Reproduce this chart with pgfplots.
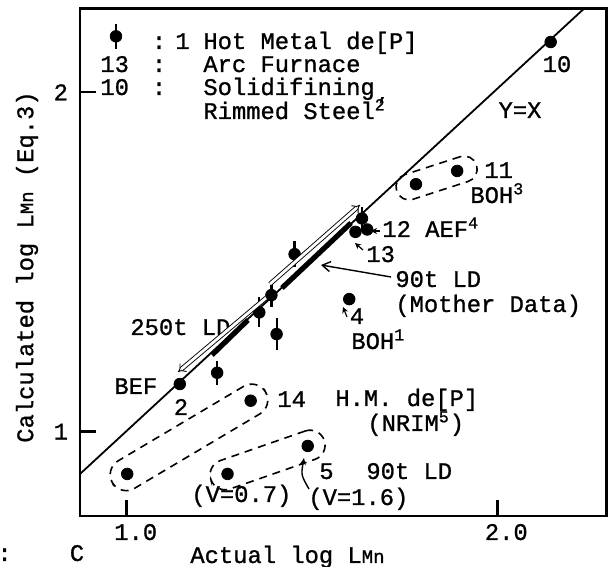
\documentclass[border=0pt]{standalone}
\usepackage{fontspec}
\setmainfont{Liberation Mono}[FakeBold=1]
\usepackage{pgfplots}
\pgfplotsset{compat=1.18}
\usetikzlibrary{calc,arrows.meta}
\newcommand\fs{\fontsize{11.9bp}{13bp}\selectfont}
\newcommand\sub[1]{{\fontsize{9.5bp}{9.5bp}\selectfont #1}}

\begin{document}
\begin{tikzpicture}[font=\fs]
\begin{axis}[
  scale only axis, width=263.35bp, height=253.85bp,
  xmin=0.8740, xmax=2.2952, ymin=0.7516, ymax=2.2475,
  xtick={1,2}, xticklabels={1.0,2.0},
  ytick={1,2}, yticklabels={1,2},
  tick pos=left, tick align=inside, major tick length=8bp,
  axis line style={line width=1.3bp},
  tick style={line width=1.2bp, black},
  xticklabel style={xshift=4.5bp, yshift=-0.5bp},
  yticklabel style={xshift=-2.5bp},
  /pgf/number format/assume math mode=true,
  ticklabel style={font=\fs},
  clip=false,
]
% Y = X
\addplot[black, line width=0.9bp] coordinates {(0.8740,0.8754) (2.2350,2.2475)};

% plain points
\addplot[only marks, mark=*, mark size=2.9bp, black] table {
x y
2.1440 2.1481
1.7805 1.7292
1.8917 1.7683
1.6489 1.5958
1.6173 1.5888
1.6005 1.3906
1.1433 1.1404
1.3345 1.0913
1.0014 0.8755
1.2721 0.8755
1.4885 0.9579
};

% hot metal de[P] (with bars), first row is the key symbol
\addplot[only marks, mark=*, mark size=2.9bp, black,
  error bars/.cd, y dir=both, y explicit, error mark=none,
  error bar style={line width=1.1bp}] table[y error=e] {
x y e
0.9711 2.1649 0.037
1.6349 1.6282 0.035
1.4530 1.5231 0.038
1.3905 1.4024 0.035
1.3578 1.3515 0.044
1.4045 1.2876 0.047
1.2441 1.1737 0.035
};
\end{axis}

% annotations, in pixel units of the reference (origin top left)
\begin{scope}[shift={($(current axis.north west)+(-40bp,4.15bp)$)}, x=0.5bp, y=-0.5bp,
  every node/.style={inner sep=0, anchor=base west}]
  % key
  \node at (151.5,49) {:};
  \node at (175,49) {1};
  \node at (203,49) {Hot Metal de[P]};
  \node at (100,72) {13};
  \node at (151.5,72) {:};
  \node at (203,72) {Arc Furnace};
  \node at (100,95) {10};
  \node at (151.5,95) {:};
  \node at (203,95) {Solidifining};
  \node at (377,100) {\sub{,}};
  \node at (203,119) {Rimmed Steel\textsuperscript{2}};

  \node[anchor=base] at (557,72) {10};
  \node[anchor=base] at (520,118) {Y=X};
  \node at (484,178) {11};
  \node at (470,203) {BOH\textsuperscript{3}};
  \draw[line width=0.6bp, -{Stealth[length=3bp,width=3bp]}] (380,231) -- (371,231);
  \node at (382,237) {12 AEF\textsuperscript{4}};
  \draw[line width=0.6bp, -{Stealth[length=3bp,width=3bp]}] (363,250) -- (355,243);
  \node at (366,262) {13};
  \node at (395,287) {90t LD};
  \node at (395,312) {(Mother Data)};
  \draw[line width=0.7bp, -{Straight Barb[length=4bp,width=5bp]}] (391,277) -- (321,265);
  \draw[line width=0.6bp, -{Stealth[length=3bp,width=3bp]}] (347,317) -- (343,307);
  \node[anchor=base] at (357,324) {4};
  \node at (351,349) {BOH\textsuperscript{1}};
  \node at (130,335) {250t LD};
  \node at (114,394) {BEF};
  \node[anchor=base] at (181,415) {2};
  \node at (277,407) {14};
  \node at (335,406) {H.M. de[P]};
  \node at (367,431) {(NRIM\textsuperscript{5})};
  \node at (319,479) {5};
  \node at (366,479) {90t LD};
  \node at (191,502) {(V=0.7)};
  \node at (308,505) {(V=1.6)};
  \draw[line width=0.7bp, -{Stealth[length=3.5bp,width=3bp]}] (309,489) .. controls (301,475) .. (304,458);

  % LD ranges
  \draw[line width=0.45bp, double distance=1.4bp, -{Implies}] (270,284) -- (360,205);
  \draw[line width=2.6bp] (282,288) -- (351,223);
  \draw[line width=0.45bp, double distance=1.4bp, -{Implies}] (266,298) -- (178,372);
  \draw[line width=2.6bp] (248,320) -- (212,355);

  % dashed groups
  \begin{scope}[every node/.style={draw, dash pattern=on 4bp off 3bp, line width=0.8bp,
      inner sep=0, anchor=center}]
    \node[rounded corners=6.5bp, minimum width=42bp, minimum height=13bp, rotate=17.9] at (436.6,178) {};
    \node[rounded corners=8bp, minimum width=89bp, minimum height=16bp, rotate=30.7] at (189,437.4) {};
    \node[rounded corners=7.5bp, minimum width=60bp, minimum height=15bp, rotate=19.2] at (267.6,460) {};
  \end{scope}

  % axis titles
  \node[rotate=90, anchor=east] at (27,91) {Calculated log L\sub{Mn}  (Eq.3)};
  \node at (190,563) {Actual log L\sub{Mn}};
  \node[anchor=base] at (77,561) {C};
  \node at (-3,561) {:};
\end{scope}

\pgfresetboundingbox
\path[use as bounding box] ($(current axis.north west)+(-40bp,4.15bp)$) rectangle ++(305bp,-283.5bp);
\end{tikzpicture}
\end{document}
